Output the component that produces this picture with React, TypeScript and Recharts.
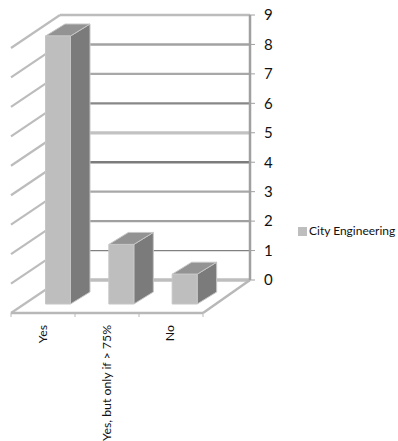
import { BarChart, Bar, CartesianGrid, Legend, XAxis, YAxis } from "recharts";

const categories = ["Yes", "Yes, but only if > 75%", "No"];
const cityEngineering = [9, 2, 1];
const valueTicks = [0, 1, 2, 3, 4, 5, 6, 7, 8, 9];

// wall lines, bottom to top
const gridColors = ["#bebebe", "#808080", "#a0a0a0", "#a8a8a8", "#7c7c7c", "#c2c2c2", "#888888", "#a8a8a8", "#a2a2a2", "#bcbcbc"];
const gridWidths = [3.5, 1.2, 2.4, 2.4, 2.4, 3.2, 2.4, 2.4, 2.4, 2.4];

const chartData = categories.map((name, i) => ({ name, value: cityEngineering[i] }));

const FONT = "Lato, sans-serif";

// floor depth between the back wall and the front edge
const FLOOR_DX = 49;
const FLOOR_DY = 33;

// how far the bars sit in front of the back wall
const BAR_DX = 33.5;
const BAR_DY = 24;
const BAR_DEPTH_X = 19.5;
const BAR_DEPTH_Y = 12;
const FRONT_SCALE = 1.0113;

const WallLine = (props: any) => {
  const { x1, x2, y1, index } = props;
  const stroke = gridColors[index] ?? "#a6a6a6";
  const frontLeft = x1 - FLOOR_DX;
  const frontRight = x2 - 47;
  const frontY = y1 + FLOOR_DY;
  const step = (frontRight - frontLeft) / categories.length;
  return (
    <g>
      <line x1={x1} y1={y1} x2={x2} y2={y1} stroke={stroke} strokeWidth={gridWidths[index] ?? 2} />
      <line x1={x1} y1={y1} x2={frontLeft} y2={frontY} stroke="#bcbcbc" strokeWidth={2.2} />
      {index === 0 && (
        <g stroke="#b8b8b8">
          <line x1={frontLeft} y1={frontY} x2={frontRight} y2={frontY} strokeWidth={2.5} />
          <line x1={frontRight} y1={frontY} x2={x2} y2={y1} strokeWidth={2.5} />
          {categories.map((_, i) => (
            <line key={i} x1={frontLeft + step * i} y1={frontY} x2={frontLeft + step * i} y2={frontY + 4} />
          ))}
          <line x1={frontRight} y1={frontY} x2={frontRight} y2={frontY + 4} />
        </g>
      )}
    </g>
  );
};

const Box = (props: any) => {
  const { x, y, width, height } = props;
  const left = x - BAR_DX;
  const right = left + width;
  const bottom = y + height + BAR_DY;
  const top = bottom - height * FRONT_SCALE;
  const dx = BAR_DEPTH_X;
  const dy = BAR_DEPTH_Y;
  return (
    <g stroke="#c6c6c6" strokeWidth={1} strokeLinejoin="round">
      <polygon
        points={`${right},${top} ${right + dx},${top - dy} ${right + dx},${bottom - dy} ${right},${bottom}`}
        fill="#7b7b7b"
      />
      <polygon
        points={`${left},${top} ${left + dx},${top - dy} ${right + dx},${top - dy} ${right},${top}`}
        fill="#939393"
      />
      <rect x={left} y={top} width={width} height={bottom - top} fill="#bebebe" />
    </g>
  );
};

const CategoryTick = (props: any) => {
  const { x, payload } = props;
  const tx = x - 44.5;
  return (
    <text
      transform={`translate(${tx},325) rotate(-90)`}
      textAnchor="end"
      fontSize={12.3}
      fontFamily={FONT}
      fill="#111"
    >
      {payload.value}
    </text>
  );
};

export default function App() {
  return (
    <div style={{ position: "absolute", left: 0, top: 0 }}>
      <BarChart
        width={398}
        height={441}
        data={chartData}
        margin={{ top: 15, right: 118, bottom: 31, left: 60 }}
      >
        <CartesianGrid vertical={false} horizontal={WallLine as any} />
        <XAxis
          dataKey="name"
          height={130}
          axisLine={false}
          tickLine={false}
          interval={0}
          tick={CategoryTick as any}
        />
        <YAxis
          orientation="right"
          width={30}
          domain={[0, 9]}
          ticks={valueTicks}
          interval={0}
          axisLine={{ stroke: "#a0a0a0", strokeWidth: 2.5 }}
          tickLine={{ stroke: "#a0a0a0", strokeWidth: 1 }}
          tickSize={5}
          tickMargin={9}
          tick={{ fontSize: 15, fontFamily: FONT, fill: "#111" }}
        />
        <Legend
          layout="vertical"
          align="center"
          verticalAlign="middle"
          iconType="square"
          iconSize={9}
          wrapperStyle={{ left: 298, top: 221, width: 100, textAlign: "left", padding: 0 }}
          formatter={(v: string) => (
            <span style={{ color: "#111", fontSize: 12, fontFamily: FONT, marginLeft: -2, whiteSpace: "nowrap" }}>{v}</span>
          )}
        />
        <Bar
          dataKey="value"
          name="City Engineering"
          fill="#bebebe"
          barSize={25}
          isAnimationActive={false}
          shape={Box as any}
        />
      </BarChart>
    </div>
  );
}
